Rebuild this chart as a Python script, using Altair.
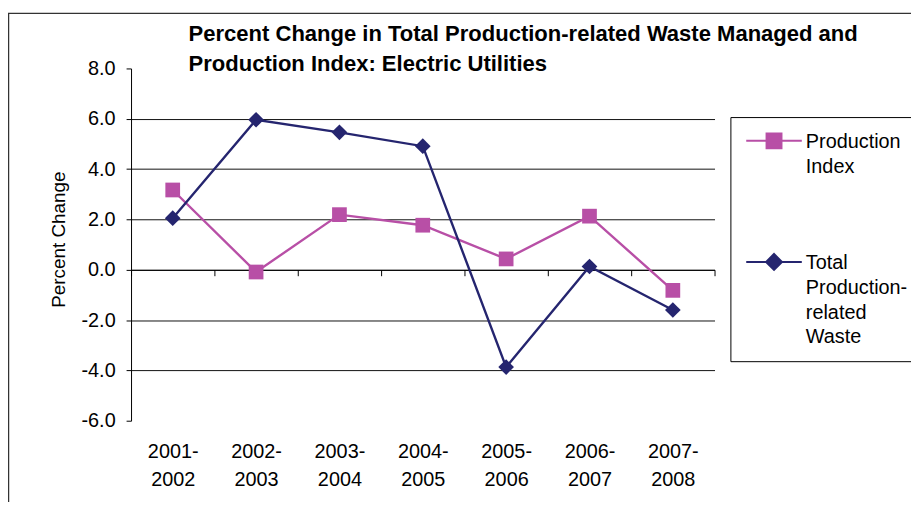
import json
import altair as alt
import pandas as pd

# ---- data ----
periods = ["2001-2002", "2002-2003", "2003-2004", "2004-2005",
           "2005-2006", "2006-2007", "2007-2008"]
production_index = [3.17, -0.09, 2.19, 1.77, 0.43, 2.13, -0.82]
total_waste = [2.05, 5.96, 5.46, 4.91, -3.87, 0.13, -1.60]
series_names = ["Production Index", "Total Production-related Waste"]
legend_lines = [["Production", "Index"], ["Total", "Production-", "related", "Waste"]]
y_ticks = [-6, -4, -2, 0, 2, 4, 6, 8]
title_lines = ["Percent Change in Total Production-related Waste Managed and",
               "Production Index: Electric Utilities"]
y_title = "Percent Change"

rows = []
for name, vals in zip(series_names, [production_index, total_waste]):
    for p, v in zip(periods, vals):
        rows.append({"period": p, "series": name, "value": v})
df = pd.DataFrame(rows)

# ---- style ----
FONT = "Liberation Sans"
MAGENTA = "#B84FA6"
NAVY = "#25256F"
SERIES_COLORS = [MAGENTA, NAVY]
SERIES_SHAPES = ["square", "diamond"]
SERIES_SIZES = [220, 250]
W, H = 588, 355
YMIN, YMAX = min(y_ticks), max(y_ticks)
zero_offset = -H * (0 - YMIN) / (YMAX - YMIN)

# legend symbols: a 56px line with the marker in its middle, drawn in a 32px symbol cell
CX, CY = 0.81, -0.44


def pt(x, y):
    return "%.3f,%.3f" % (CX + x, CY + y)


SQ_PATH = "M{}L{}M{}L{}L{}L{}Z".format(pt(-1.75, 0), pt(1.75, 0), pt(-0.47, -0.47),
                                       pt(0.47, -0.47), pt(0.47, 0.47), pt(-0.47, 0.47))
DI_PATH = "M{}L{}M{}L{}L{}L{}Z".format(pt(-1.75, 0), pt(1.75, 0), pt(0, -0.5),
                                       pt(0.5, 0), pt(0, 0.5), pt(-0.5, 0))


def q(s):
    return json.dumps(s).replace('"', "'")


label_expr = "datum.label == %s ? %s : %s" % (q(series_names[0]), q(legend_lines[0]), q(legend_lines[1]))

legend = alt.Legend(
    title=None, orient="none", legendX=604, legendY=49, direction="vertical",
    strokeColor="black", fillColor="white", padding=14, cornerRadius=0,
    symbolSize=1024, symbolStrokeWidth=2, symbolOpacity=1,
    labelFont=FONT, labelFontSize=20, labelColor="black", labelOffset=28,
    labelLimit=300, labelBaseline="alphabetic", labelExpr=label_expr, rowPadding=73,
)

x_enc = alt.X(
    "period:N", sort=periods,
    scale=alt.Scale(type="band", paddingInner=0, paddingOuter=0),
    axis=alt.Axis(
        title=None, orient="bottom", offset=zero_offset, grid=False,
        domainColor="black", domainWidth=1, tickColor="black", tickSize=6,
        tickBand="extent", labelFont=FONT, labelFontSize=20, labelColor="black",
        labelAngle=0, labelPadding=167, labelBaseline="top", labelLineHeight=28,
        labelExpr="[slice(datum.label, 0, 5), slice(datum.label, 5)]",
    ),
)
y_enc = alt.Y(
    "value:Q",
    scale=alt.Scale(domain=[YMIN, YMAX], nice=False, zero=False),
    axis=alt.Axis(
        values=y_ticks, title=y_title, titleFont=FONT, titleFontSize=19,
        titleFontWeight="normal", titleColor="black", titleX=-73, titleY=172,
        titleBaseline="middle", titleAlign="center",
        labelFont=FONT, labelFontSize=20, labelColor="black", labelPadding=11,
        labelExpr="replace(format(datum.value, '.1f'), '\u2212', '-')",
        tickSize=5, tickColor="black", domainColor="black", domainWidth=1,
        grid=True, gridColor="#111111", gridWidth=1,
        gridOpacity={"condition": {"test": "datum.value == %d || datum.value == %d" % (YMAX, YMIN),
                                   "value": 0}, "value": 1},
    ),
)

base = alt.Chart(df)
line_layers = []
point_layers = []
for name, col, shp, sz in zip(series_names, SERIES_COLORS, SERIES_SHAPES, SERIES_SIZES):
    sub = base.transform_filter(alt.datum.series == name)
    line_layers.append(sub.mark_line(strokeWidth=2.4, color=col).encode(x=x_enc, y=y_enc))
    point_layers.append(sub.mark_point(shape=shp, filled=True, opacity=1, size=sz, color=col)
                        .encode(x=x_enc, y=y_enc))

# legend-only layer (no marks drawn: its data is filtered out, the legend comes from the scale domains)
legend_layer = base.transform_filter("false").mark_point(filled=True, opacity=1).encode(
    fill=alt.Fill("series:N", scale=alt.Scale(domain=series_names, range=SERIES_COLORS), legend=legend),
    stroke=alt.Stroke("series:N", scale=alt.Scale(domain=series_names, range=SERIES_COLORS), legend=legend),
    shape=alt.Shape("series:N", scale=alt.Scale(domain=series_names, range=[SQ_PATH, DI_PATH]), legend=legend),
)

frame = alt.Chart(pd.DataFrame({"a": [0]})).mark_rect(
    filled=False, stroke="#333333", strokeWidth=1.5
).encode(x=alt.value(-123.5), x2=alt.value(900), y=alt.value(-55.5), y2=alt.value(600))

chart = alt.layer(frame, *line_layers, *point_layers, legend_layer).properties(
    width=W, height=H,
    autosize=alt.AutoSizeParams(type="none"),
    padding={"left": 124, "top": 59, "right": 198, "bottom": 80},
    title=alt.TitleParams(
        text=title_lines, font=FONT, fontSize=22.2, fontWeight="bold", color="black",
        anchor="start", frame="group", dx=58, dy=63, lineHeight=30, baseline="top", offset=0,
    ),
).configure(
    background="white", style={"guide-label": {"lineHeight": 25}}
).configure_view(stroke="transparent")

chart.save("out.html", embed_options={"renderer": "svg", "actions": False})
